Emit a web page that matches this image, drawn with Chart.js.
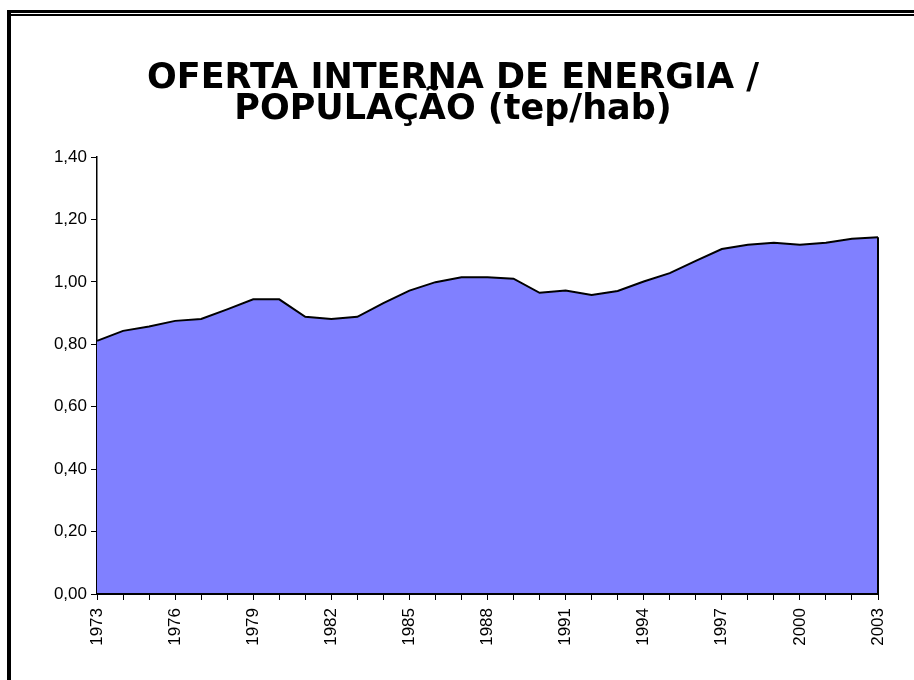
<!DOCTYPE html>
<html>
<head>
<meta charset="utf-8">
<script src="https://cdn.jsdelivr.net/npm/chart.js@4/dist/chart.umd.min.js"></script>
<style>
  html, body { margin: 0; padding: 0; background: #fff; }
  #wrap { position: relative; width: 914px; height: 680px; overflow: hidden; }
  canvas { position: absolute; left: 0; top: 0; }
  .fr { position: absolute; background: #000; pointer-events: none; }
</style>
</head>
<body>
<div id="wrap">
  <canvas id="c" width="914" height="680"></canvas>
  <div class="fr" style="left:7px; top:10px; width:4px; height:670px;"></div>
  <div class="fr" style="left:7px; top:10px; width:907px; height:3px;"></div>
  <div class="fr" style="left:10px; top:14px; width:904px; height:2px;"></div>
</div>
<script>
const TITLE_LINES = ["OFERTA INTERNA DE ENERGIA /", "POPULAÇÃO (tep/hab)"];
const YEARS = ["1973","1974","1975","1976","1977","1978","1979","1980","1981","1982",
               "1983","1984","1985","1986","1987","1988","1989","1990","1991","1992",
               "1993","1994","1995","1996","1997","1998","1999","2000","2001","2002","2003"];
const OIE_PER_CAPITA = [0.811,0.843,0.857,0.875,0.881,0.912,0.944,0.944,0.888,0.881,
                        0.888,0.932,0.972,0.999,1.015,1.015,1.010,0.965,0.972,0.958,
                        0.971,1.001,1.028,1.067,1.105,1.119,1.125,1.119,1.125,1.138,1.143];
const Y_MIN = 0, Y_MAX = 1.4, Y_STEP = 0.2;

const edgePlugin = {
  id: 'edge',
  afterDatasetsDraw(chart) {
    const meta = chart.getDatasetMeta(0);
    const last = meta.data[meta.data.length - 1];
    const ctx = chart.ctx, area = chart.chartArea;
    ctx.save();
    ctx.strokeStyle = '#000';
    ctx.lineWidth = 2;
    ctx.beginPath();
    ctx.moveTo(last.x, last.y);
    ctx.lineTo(last.x, area.bottom);
    ctx.stroke();
    ctx.beginPath();
    ctx.moveTo(area.left, area.bottom);
    ctx.lineTo(area.right + 1, area.bottom);
    ctx.stroke();
    ctx.restore();
  }
};

new Chart(document.getElementById('c'), {
  type: 'line',
  data: {
    labels: YEARS,
    datasets: [{
      data: OIE_PER_CAPITA,
      fill: 'origin',
      backgroundColor: '#8080FF',
      borderColor: '#000',
      borderWidth: 2,
      pointRadius: 0,
      tension: 0
    }]
  },
  options: {
    responsive: false,
    animation: false,
    layout: { padding: { left: 28, right: 36, top: 0, bottom: 0 } },
    plugins: {
      legend: { display: false },
      tooltip: { enabled: false },
      title: {
        display: true,
        text: TITLE_LINES,
        color: '#000',
        font: { family: 'DejaVu Sans', weight: 'bold', size: 35, lineHeight: 0.9 },
        padding: { top: 63, bottom: 31 }
      }
    },
    scales: {
      x: {
        offset: false,
        afterFit(s) { s.height = 86; },
        grid: { drawOnChartArea: false, color: '#000', tickLength: 6, tickWidth: 1 },
        border: { color: '#000', width: 2 },
        ticks: {
          autoSkip: false,
          minRotation: 90, maxRotation: 90,
          padding: 8,
          color: '#000',
          font: { family: 'Liberation Sans', size: 17 },
          callback(v, i) { return i % 3 === 0 ? YEARS[i] : ''; }
        }
      },
      y: {
        min: Y_MIN, max: Y_MAX,
        afterFit(s) { s.width = 69; },
        grid: { drawOnChartArea: false, color: '#000', tickLength: 6, tickWidth: 1 },
        border: { color: '#000', width: 1.5 },
        ticks: {
          stepSize: Y_STEP,
          padding: 4,
          color: '#000',
          font: { family: 'Liberation Sans', size: 17 },
          callback(v) { return Number(v).toFixed(2).replace('.', ','); }
        }
      }
    }
  },
  plugins: [edgePlugin]
});
</script>
</body>
</html>
